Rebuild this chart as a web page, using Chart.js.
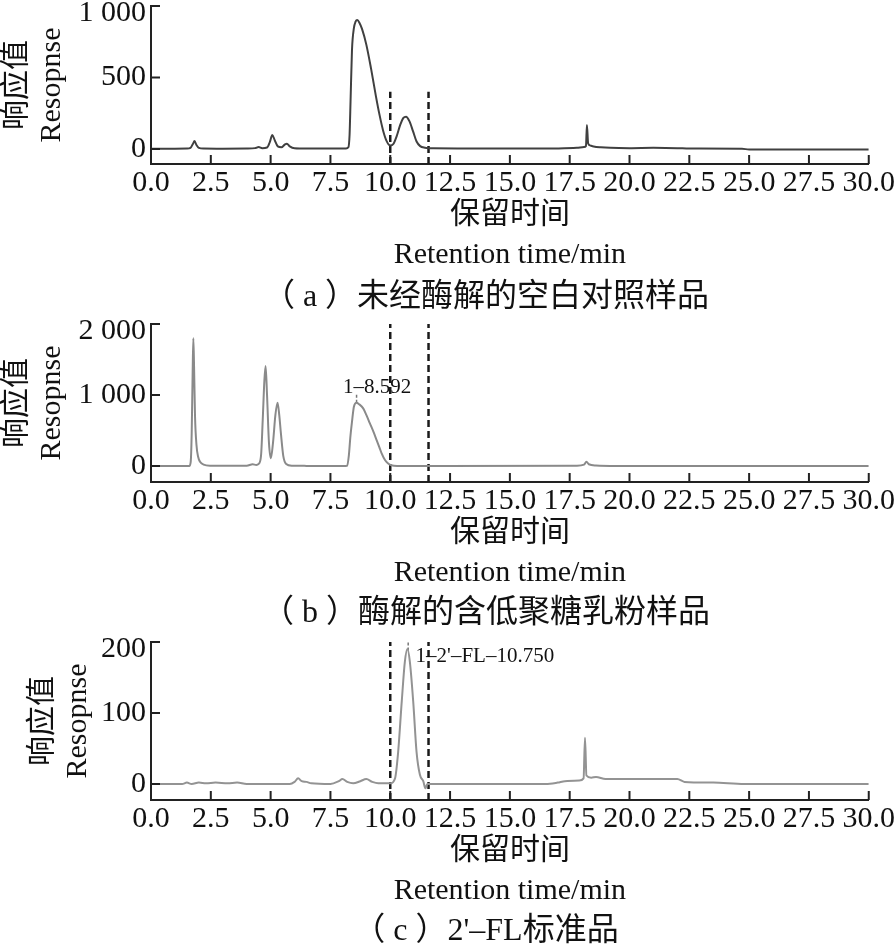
<!DOCTYPE html>
<html>
<head>
<meta charset="utf-8">
<script src="https://cdn.jsdelivr.net/npm/chart.js@4.4.1/dist/chart.umd.min.js"></script>
<style>
  body { margin: 0; background: #fff; }
  #wrap { position: relative; width: 896px; height: 946px; overflow: hidden; }
  canvas { position: absolute; left: 0; }
  .cap {
    position: absolute; left: 0; width: 972px; text-align: center; white-space: pre;
    font: 32px/36px "Liberation Serif", "Noto Sans CJK SC", serif; color: #111;
  }
  .cap span { font-family: "Noto Sans CJK SC", sans-serif; }
</style>
</head>
<body>
<div id="wrap">
  <canvas id="chartA" width="896" height="289" style="top:-14px"></canvas>
  <canvas id="chartB" width="896" height="289" style="top:304px"></canvas>
  <canvas id="chartC" width="896" height="289" style="top:622px"></canvas>
  <div class="cap" style="top:274px"><span>（</span> a <span>）</span>未经酶解的空白对照样品</div>
  <div class="cap" style="top:590px"><span>（</span> b <span>）</span>酶解的含低聚糖乳粉样品</div>
  <div class="cap" style="top:908px"><span>（</span> c <span>）</span>2'–FL标准品</div>
</div>
<script>
// retention time (min) and response
const timeA = [0, 1.0, 1.5, 1.65, 1.75, 1.82, 1.9, 2.0, 2.2, 3.0, 4.0, 4.35, 4.5, 4.65, 4.85, 4.97, 5.07, 5.17, 5.3, 5.45, 5.6, 5.68, 5.8, 6.0, 6.5, 7.5, 8.15, 8.25, 8.3, 8.34, 8.4, 8.48, 8.55, 8.62, 8.72, 8.82, 9.0, 9.2, 9.4, 9.55, 9.7, 9.85, 10.0, 10.13, 10.27, 10.42, 10.55, 10.66, 10.8, 10.95, 11.1, 11.25, 11.45, 11.8, 13.0, 15.0, 17.0, 17.8, 18.1, 18.18, 18.22, 18.27, 18.35, 18.5, 18.8, 19.2, 20.0, 21.0, 22.0, 22.5, 24.7, 25.0, 30.0];
const respA = [2, 2, 3, 8, 35, 55, 28, 8, 3, 2, 3, 6, 14, 6, 10, 50, 98, 62, 18, 12, 32, 37, 18, 5, 3, 3, 4, 12, 100, 330, 690, 845, 890, 902, 880, 840, 730, 560, 370, 240, 130, 55, 24, 35, 90, 170, 218, 226, 195, 125, 52, 20, 9, 5, 4, 3, 4, 8, 14, 20, 168, 40, 25, 18, 12, 8, 6, 8, 6, 3, 2, -4, -4];

const timeB = [0, 1.0, 1.6, 1.66, 1.7, 1.74, 1.77, 1.8, 1.84, 1.9, 1.97, 2.05, 2.2, 2.5, 3.0, 4.0, 4.25, 4.4, 4.5, 4.6, 4.67, 4.74, 4.79, 4.85, 4.93, 5.01, 5.1, 5.2, 5.29, 5.36, 5.43, 5.53, 5.65, 5.9, 6.5, 8.0, 8.2, 8.27, 8.33, 8.4, 8.48, 8.59, 8.7, 8.87, 9.0, 9.15, 9.3, 9.43, 9.55, 9.64, 9.78, 9.9, 10.05, 10.3, 12.0, 17.8, 18.1, 18.2, 18.3, 18.6, 19.5, 30.0];
const respB = [0, 0, 2, 60, 450, 1300, 1800, 1400, 700, 300, 130, 60, 20, 5, 3, 5, 25, 15, 30, 150, 650, 1210, 1410, 1000, 330, 110, 330, 720, 892, 720, 460, 140, 30, 5, 2, 0, 5, 150, 400, 620, 835, 892, 870, 812, 720, 600, 480, 366, 260, 178, 85, 40, 10, 2, 0, 5, 20, 60, 25, 8, 2, 0];

const timeC = [0, 1.3, 1.5, 1.7, 2.0, 2.3, 2.7, 3.2, 3.6, 4.0, 5.8, 6.0, 6.15, 6.3, 6.5, 6.7, 7.5, 7.85, 8.0, 8.2, 8.45, 8.75, 9.0, 9.25, 9.5, 10.0, 10.2, 10.33, 10.48, 10.61, 10.72, 10.82, 10.96, 11.1, 11.24, 11.38, 11.47, 11.55, 13.0, 16.5, 17.0, 17.3, 17.9, 18.08, 18.14, 18.2, 18.4, 18.6, 19.0, 20.0, 21.0, 22.0, 22.3, 23.5, 24.8, 30.0];
const respC = [0, 0, 2, 0, 2, 1, 2, 1, 2, 0, 0, 3, 8, 4, 3, 1, 0, 4, 7, 3, 1, 4, 7, 3, 1, 1, 8, 45, 116, 172, 190, 172, 116, 45, 13, 4, -6, 0, 0, 0, 2, 4, 5, 8, 65, 12, 9, 10, 7, 7, 7, 7, 3, 2, 0, 0];

// axes
const xTicks = [0, 2.5, 5, 7.5, 10, 12.5, 15, 17.5, 20, 22.5, 25, 27.5, 30];
const yTicksA = [0, 500, 1000];
const yTicksB = [0, 1000, 2000];
const yTicksC = [0, 100, 200];
const yRangeA = [-105, 1000];
const yRangeB = [-225, 2000];
const yRangeC = [-22.5, 200];

// dashed cut lines (min) and the top of the cut lines in panel a
const cutTimes = [10.0, 11.6];
const cutTopA = 400;

// peak labels
const labelsB = [{ text: '1–8.592', x: 8.03, y: 1099 }];
const labelsC = [{ text: "1–2'–FL–10.750", x: 11.06, y: 180 }];
const markB = [{ x: 8.592, y: 890 }, { x: 8.592, y: 1010 }];
const markC = [{ x: 10.75, y: 188 }, { x: 10.75, y: 200 }];

const FAMILY = '"Liberation Serif", "Noto Sans CJK SC", serif';
const INK = '#111';

// short tick marks pointing into the plot
const innerTicks = {
    id: 'innerTicks',
    afterDraw(chart) {
        const { ctx, chartArea, scales: { x, y } } = chart;
        ctx.save();
        ctx.strokeStyle = '#222';
        ctx.lineWidth = 2;
        ctx.beginPath();
        x.ticks.forEach((t) => {
            const px = x.getPixelForValue(t.value);
            ctx.moveTo(px, chartArea.bottom);
            ctx.lineTo(px, chartArea.bottom - 9);
        });
        y.ticks.forEach((t) => {
            const py = y.getPixelForValue(t.value);
            ctx.moveTo(chartArea.left, py);
            ctx.lineTo(chartArea.left + 9, py);
        });
        ctx.stroke();
        ctx.restore();
    }
};

// peak annotation text
const peakLabels = {
    id: 'peakLabels',
    afterDatasetsDraw(chart, args, opts) {
        const { ctx, scales: { x, y } } = chart;
        ctx.save();
        ctx.font = '21px ' + FAMILY;
        ctx.fillStyle = INK;
        ctx.textAlign = 'left';
        ctx.textBaseline = 'middle';
        (opts.items || []).forEach((it) => {
            ctx.fillText(it.text, x.getPixelForValue(it.x), y.getPixelForValue(it.y));
        });
        ctx.restore();
    }
};

function fmt(v) {
    return String(v).replace(/\B(?=(\d{3})+$)/g, ' ');
}

function toPoints(times, values) {
    return times.map((t, i) => ({ x: t, y: values[i] }));
}

function makePanel(id, times, values, color, yTicks, yRange, cutTop, items, mark, titlePad) {
    const datasets = [{
        data: toPoints(times, values),
        borderColor: color,
        borderWidth: 2,
        pointRadius: 0,
        cubicInterpolationMode: 'monotone',
    }];
    cutTimes.forEach((t) => {
        datasets.push({
            data: [{ x: t, y: yRange[0] }, { x: t, y: cutTop }],
            borderColor: '#1a1a1a',
            borderWidth: 2.5,
            borderDash: [7, 4],
            pointRadius: 0,
        });
    });
    if (mark) {
        datasets.push({
            data: mark,
            borderColor: '#777',
            borderWidth: 1.5,
            borderDash: [3, 2],
            pointRadius: 0,
        });
    }
    const yMax = yRange[1];

    return new Chart(document.getElementById(id), {
        type: 'line',
        data: { datasets },
        plugins: [innerTicks, peakLabels],
        options: {
            responsive: false,
            animation: false,
            layout: { padding: { top: 20, left: 0, right: 0, bottom: 0 } },
            plugins: {
                legend: { display: false },
                tooltip: { enabled: false },
                peakLabels: { items: items || [] },
            },
            scales: {
                x: {
                    type: 'linear',
                    min: 0,
                    max: 30,
                    afterBuildTicks: (s) => { s.ticks = xTicks.map((v) => ({ value: v })); },
                    grid: { display: false, drawTicks: false },
                    border: { display: true, color: '#222', width: 2 },
                    ticks: {
                        autoSkip: false,
                        maxRotation: 0,
                        padding: 1,
                        color: INK,
                        font: { family: FAMILY, size: 30, lineHeight: 1.2 },
                        callback: (v) => Number(v).toFixed(1),
                    },
                    title: {
                        display: true,
                        text: ['保留时间', 'Retention time/min'],
                        color: INK,
                        font: { family: FAMILY, size: 30, lineHeight: '40px' },
                        padding: { top: -7, bottom: 0 },
                    },
                },
                y: {
                    type: 'linear',
                    min: yRange[0],
                    max: yMax,
                    afterBuildTicks: (s) => { s.ticks = yTicks.map((v) => ({ value: v })); },
                    afterFit: (s) => { s.width = 151; },
                    grid: { display: false, drawTicks: false },
                    border: { display: true, color: '#222', width: 2 },
                    ticks: {
                        padding: 5,
                        color: INK,
                        font: (c) => ({
                            family: FAMILY,
                            size: 30,
                            lineHeight: c.tick && c.tick.value === yMax ? '14px' : 1.2,
                        }),
                        // top label sits a little below its tick, as in the figure
                        callback: (v) => (v === yMax ? ['', fmt(v)] : fmt(v)),
                    },
                    title: {
                        display: true,
                        text: ['响应值', 'Resopnse'],
                        color: INK,
                        font: { family: FAMILY, size: 30, lineHeight: '35px' },
                        padding: { top: titlePad, bottom: 0 },
                    },
                },
            },
        },
    });
}

makePanel('chartA', timeA, respA, '#404040', yTicksA, yRangeA, cutTopA, null, null, 0);
makePanel('chartB', timeB, respB, '#8a8a8a', yTicksB, yRangeB, yRangeB[1], labelsB, markB, 0);
makePanel('chartC', timeC, respC, '#939393', yTicksC, yRangeC, yRangeC[1], labelsC, markC, 26);
</script>
</body>
</html>
